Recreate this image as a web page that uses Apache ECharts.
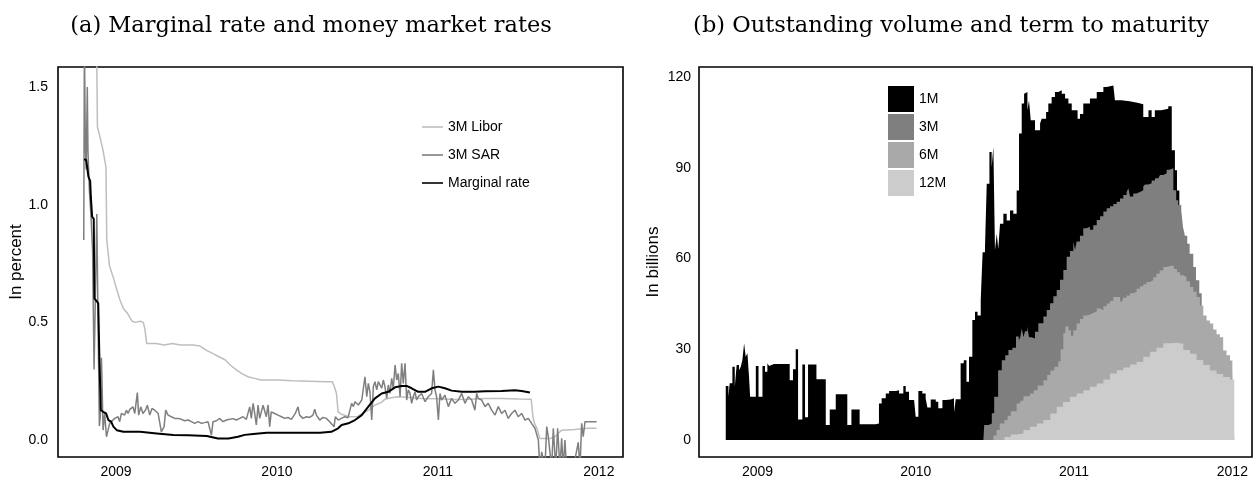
<!DOCTYPE html>
<html>
<head>
<meta charset="utf-8">
<script src="https://cdn.jsdelivr.net/npm/echarts@6/dist/echarts.min.js"></script>
<style>
  html, body { margin: 0; padding: 0; background: #fff; }
  #main { width: 1253px; height: 477px; }
</style>
</head>
<body>
<div id="main"></div>
<script>
// ---- panel (a): rates, x in decimal years ----
var liborT = [2008.800,2008.840,2008.870,2008.881,2008.885,2008.900,2008.920,2008.938,2008.943,2008.960,2008.984,2009.005,2009.025,2009.045,2009.070,2009.100,2009.120,2009.150,2009.170,2009.180,2009.191,2009.250,2009.300,2009.350,2009.400,2009.480,2009.520,2009.560,2009.600,2009.640,2009.680,2009.710,2009.750,2009.780,2009.820,2009.860,2009.900,2010.000,2010.100,2010.200,2010.300,2010.345,2010.360,2010.370,2010.380,2010.400,2010.450,2010.500,2010.530,2010.570,2010.610,2010.650,2010.670,2010.710,2010.750,2010.800,2010.900,2011.000,2011.100,2011.190,2011.300,2011.400,2011.500,2011.580,2011.590,2011.600,2011.615,2011.634,2011.700,2011.727,2011.750,2011.769,2011.850,2011.934,2011.986];
var liborV = [4.0,3.0,2.0,1.6,1.33,1.29,1.23,1.16,0.85,0.74,0.69,0.64,0.595,0.56,0.54,0.505,0.50,0.505,0.50,0.47,0.41,0.41,0.404,0.41,0.404,0.404,0.40,0.382,0.368,0.354,0.34,0.319,0.297,0.283,0.269,0.262,0.255,0.255,0.252,0.250,0.248,0.248,0.22,0.198,0.12,0.11,0.099,0.10,0.113,0.127,0.149,0.16,0.173,0.180,0.184,0.182,0.177,0.175,0.172,0.173,0.177,0.177,0.174,0.173,0.10,0.071,0.05,0.007,0.007,0.014,0.03,0.042,0.045,0.050,0.050];

var sarT = [2008.800,2008.804,2008.810,2008.815,2008.822,2008.826,2008.835,2008.845,2008.855,2008.864,2008.872,2008.881,2008.888,2008.897,2008.903,2008.910,2008.920,2008.930,2008.941,2008.951,2008.961,2008.972,2008.992,2009.013,2009.023,2009.034,2009.054,2009.065,2009.075,2009.086,2009.106,2009.117,2009.133,2009.141,2009.154,2009.168,2009.183,2009.195,2009.210,2009.224,2009.241,2009.262,2009.282,2009.299,2009.309,2009.324,2009.344,2009.365,2009.386,2009.406,2009.427,2009.448,2009.469,2009.489,2009.510,2009.531,2009.551,2009.572,2009.593,2009.603,2009.624,2009.645,2009.665,2009.686,2009.707,2009.727,2009.748,2009.769,2009.790,2009.810,2009.831,2009.841,2009.852,2009.862,2009.872,2009.883,2009.893,2009.914,2009.924,2009.934,2009.945,2009.955,2009.965,2009.986,2010.007,2010.028,2010.048,2010.069,2010.090,2010.114,2010.131,2010.141,2010.162,2010.183,2010.204,2010.224,2010.235,2010.245,2010.266,2010.286,2010.307,2010.328,2010.338,2010.355,2010.363,2010.380,2010.400,2010.421,2010.442,2010.464,2010.475,2010.485,2010.506,2010.527,2010.547,2010.558,2010.568,2010.578,2010.589,2010.599,2010.609,2010.620,2010.630,2010.651,2010.661,2010.671,2010.682,2010.692,2010.702,2010.713,2010.723,2010.734,2010.744,2010.754,2010.765,2010.775,2010.785,2010.796,2010.806,2010.816,2010.827,2010.837,2010.847,2010.858,2010.868,2010.878,2010.899,2010.920,2010.940,2010.961,2010.972,2010.982,2010.992,2011.003,2011.013,2011.023,2011.044,2011.065,2011.085,2011.106,2011.127,2011.148,2011.168,2011.189,2011.210,2011.230,2011.241,2011.251,2011.272,2011.293,2011.313,2011.334,2011.355,2011.375,2011.396,2011.417,2011.437,2011.458,2011.479,2011.499,2011.520,2011.541,2011.562,2011.582,2011.603,2011.624,2011.634,2011.645,2011.665,2011.676,2011.686,2011.707,2011.717,2011.732,2011.744,2011.758,2011.769,2011.779,2011.789,2011.800,2011.841,2011.872,2011.883,2011.893,2011.903,2011.914,2011.986];
var sarV = [0.85,1.70,1.25,1.15,1.50,1.23,1.06,0.95,0.80,0.30,0.60,0.96,0.55,0.06,0.10,0.35,0.042,0.113,0.014,0.042,0.071,0.064,0.092,0.099,0.078,0.113,0.106,0.127,0.113,0.130,0.141,0.113,0.202,0.106,0.141,0.113,0.127,0.148,0.106,0.134,0.127,0.113,0.035,0.057,0.127,0.106,0.099,0.092,0.092,0.088,0.082,0.085,0.078,0.071,0.078,0.071,0.074,0.078,0.021,0.078,0.082,0.092,0.078,0.085,0.088,0.091,0.085,0.092,0.099,0.088,0.141,0.092,0.156,0.113,0.064,0.149,0.092,0.148,0.141,0.099,0.149,0.057,0.120,0.113,0.106,0.099,0.092,0.096,0.088,0.113,0.141,0.106,0.092,0.099,0.096,0.106,0.131,0.106,0.085,0.096,0.092,0.078,0.085,0.057,0.099,0.085,0.092,0.099,0.095,0.156,0.142,0.163,0.149,0.170,0.269,0.184,0.241,0.205,0.085,0.227,0.248,0.213,0.248,0.220,0.255,0.227,0.177,0.234,0.198,0.262,0.220,0.319,0.255,0.283,0.184,0.326,0.241,0.326,0.170,0.213,0.198,0.156,0.184,0.205,0.170,0.184,0.198,0.163,0.184,0.198,0.298,0.213,0.184,0.085,0.198,0.170,0.191,0.142,0.177,0.156,0.170,0.198,0.156,0.184,0.170,0.127,0.198,0.177,0.170,0.142,0.156,0.127,0.106,0.142,0.113,0.127,0.092,0.113,0.127,0.099,0.113,0.085,0.092,0.071,0.050,0.000,-0.12,-0.05,-0.12,0.057,0.014,-0.12,0.050,-0.12,0.050,-0.12,0.007,-0.12,0.000,-0.12,-0.12,-0.01,-0.12,0.071,0.014,0.078,0.078];

var margT = [2008.802,2008.815,2008.829,2008.840,2008.844,2008.852,2008.862,2008.866,2008.880,2008.890,2008.897,2008.906,2008.920,2008.939,2008.953,2008.970,2008.984,2009.005,2009.046,2009.150,2009.253,2009.357,2009.450,2009.564,2009.634,2009.700,2009.758,2009.800,2009.853,2009.937,2010.100,2010.268,2010.338,2010.380,2010.402,2010.444,2010.485,2010.527,2010.568,2010.609,2010.651,2010.692,2010.734,2010.775,2010.806,2010.837,2010.878,2010.920,2010.961,2011.003,2011.044,2011.085,2011.148,2011.230,2011.293,2011.396,2011.479,2011.520,2011.572];
var margV = [1.193,1.19,1.119,1.10,1.034,0.949,0.94,0.602,0.59,0.581,0.35,0.127,0.12,0.113,0.085,0.078,0.057,0.042,0.035,0.035,0.028,0.021,0.020,0.017,0.007,0.007,0.014,0.022,0.026,0.031,0.031,0.031,0.035,0.050,0.064,0.071,0.085,0.106,0.142,0.177,0.198,0.205,0.224,0.230,0.230,0.220,0.205,0.205,0.220,0.227,0.220,0.210,0.205,0.205,0.207,0.208,0.212,0.208,0.202];

// ---- panel (b): outstanding volume, upper edge of each maturity band (cumulative) ----
var top1mT = [2008.799,2008.816,2008.824,2008.841,2008.856,2008.868,2008.883,2008.894,2008.904,2008.915,2008.925,2008.936,2008.946,2008.953,2008.989,2009.006,2009.031,2009.047,2009.062,2009.073,2009.083,2009.104,2009.115,2009.203,2009.224,2009.241,2009.256,2009.283,2009.300,2009.319,2009.372,2009.431,2009.456,2009.494,2009.567,2009.593,2009.645,2009.746,2009.767,2009.784,2009.810,2009.831,2009.873,2009.894,2009.921,2009.936,2009.957,2009.989,2009.999,2010.016,2010.041,2010.062,2010.073,2010.094,2010.126,2010.142,2010.168,2010.189,2010.220,2010.241,2010.252,2010.283,2010.303,2010.320,2010.336,2010.357,2010.374,2010.390,2010.410,2010.422,2010.437,2010.448,2010.465,2010.479,2010.490,2010.500,2010.511,2010.521,2010.532,2010.553,2010.574,2010.595,2010.616,2010.637,2010.652,2010.669,2010.684,2010.696,2010.705,2010.715,2010.726,2010.753,2010.785,2010.795,2010.823,2010.837,2010.858,2010.879,2010.900,2010.922,2010.943,2010.964,2010.985,2011.022,2011.037,2011.058,2011.100,2011.143,2011.185,2011.206,2011.248,2011.258,2011.300,2011.350,2011.400,2011.437,2011.470,2011.490,2011.510,2011.550,2011.595,2011.617,2011.637,2011.650,2011.665];
var top1mV = [17.9,14.3,18.8,24.2,17.5,24.8,23.1,24.2,26.4,32.0,27.5,28.7,20.9,14.3,24.5,14.3,24.5,22.6,25.4,24.5,25.1,25.4,25.1,19.8,23.4,30.0,6.8,25.0,7.5,25.0,20.1,5.0,10.1,15.1,5.0,10.1,5.2,5.5,12.1,13.8,15.4,16.2,16.5,15.4,17.9,16.0,13.2,12.7,7.7,16.2,15.4,13.8,10.8,13.4,12.7,10.5,13.2,13.4,13.8,9.0,13.5,25.4,26.4,19.3,27.5,39.7,42.4,41.2,46.2,62.1,63.8,84.7,95.2,90.2,96.9,62.7,68.2,63.2,71.5,74.8,72.6,75.9,74.8,82.5,101.3,111.2,114.5,115.0,109.0,112.3,105.7,102.4,104.6,106.2,108.4,111.2,113.4,115.0,115.6,114.5,112.9,111.2,109.0,106.2,107.8,111.2,112.9,115.0,116.7,117.2,117.3,112.3,112.0,111.5,111.0,106.8,109.0,106.8,109.0,109.5,110.3,95.8,89.2,82.5,78.0];

var top3mT = [2010.427,2010.432,2010.460,2010.480,2010.495,2010.520,2010.543,2010.565,2010.585,2010.610,2010.633,2010.650,2010.660,2010.669,2010.680,2010.690,2010.704,2010.715,2010.732,2010.753,2010.774,2010.806,2010.827,2010.848,2010.869,2010.890,2010.911,2010.932,2010.953,2010.974,2010.995,2011.006,2011.016,2011.037,2011.058,2011.079,2011.100,2011.121,2011.143,2011.164,2011.185,2011.206,2011.227,2011.248,2011.269,2011.290,2011.311,2011.332,2011.343,2011.353,2011.374,2011.395,2011.416,2011.437,2011.448,2011.469,2011.490,2011.511,2011.532,2011.543,2011.564,2011.585,2011.602,2011.627,2011.645,2011.658,2011.677,2011.688,2011.700,2011.715,2011.730,2011.753,2011.770,2011.791,2011.806];
var top3mV = [0,5.0,5.5,8.9,14.3,23.1,26.4,28.0,29.8,30.5,34.2,33.0,34.0,36.9,34.0,36.0,37.5,34.0,33.6,35.8,38.6,40.8,43.0,45.2,47.5,49.6,53.0,56.2,60.6,62.5,65.6,62.8,65.6,67.5,70.0,70.5,69.5,71.0,72.7,74.0,75.5,76.6,77.3,78.0,78.8,79.8,81.0,82.0,83.2,80.5,81.5,82.0,82.6,83.8,84.5,84.9,85.8,86.5,87.0,87.6,88.2,89.3,89.8,82.6,79.3,77.7,75.9,70.4,67.5,64.9,61.6,57.2,52.8,48.5,45.0];

var top6mT = [2010.470,2010.490,2010.510,2010.530,2010.560,2010.580,2010.600,2010.637,2010.660,2010.680,2010.721,2010.745,2010.770,2010.806,2010.830,2010.850,2010.875,2010.900,2010.915,2010.932,2010.945,2010.965,2010.980,2010.995,2011.016,2011.037,2011.058,2011.079,2011.100,2011.121,2011.143,2011.164,2011.185,2011.206,2011.227,2011.248,2011.270,2011.290,2011.300,2011.311,2011.332,2011.353,2011.374,2011.395,2011.416,2011.437,2011.458,2011.480,2011.500,2011.520,2011.540,2011.564,2011.585,2011.606,2011.630,2011.650,2011.670,2011.690,2011.710,2011.732,2011.753,2011.774,2011.795,2011.816,2011.837,2011.858,2011.879,2011.900,2011.921,2011.942,2011.963,2011.985,2012.000,2012.012];
var top6mV = [0,1.5,3.3,5.5,6.6,8.0,9.5,12.1,13.0,14.5,15.4,16.5,18.0,19.8,21.5,23.0,24.2,26.0,30.0,35.4,37.5,36.3,34.5,36.3,38.5,40.0,41.2,41.5,42.0,42.5,43.5,42.9,44.2,45.1,46.0,47.3,47.3,46.2,45.5,47.0,47.8,48.5,49.0,50.0,50.8,51.5,52.2,52.8,53.8,55.0,56.0,57.2,57.5,57.7,56.5,55.5,54.5,53.9,52.5,50.6,49.0,47.3,44.5,41.2,39.5,38.5,36.5,35.0,34.0,29.6,28.0,26.3,23.0,23.0];

var top12mT = [2010.543,2010.560,2010.600,2010.637,2010.680,2010.721,2010.765,2010.806,2010.850,2010.890,2010.930,2010.974,2011.016,2011.058,2011.100,2011.143,2011.185,2011.227,2011.270,2011.311,2011.353,2011.395,2011.437,2011.480,2011.520,2011.564,2011.606,2011.648,2011.690,2011.732,2011.774,2011.816,2011.858,2011.900,2011.942,2011.985,2012.012];
var top12mV = [0,1.0,1.8,2.2,3.3,4.4,5.5,6.6,8.8,11.0,12.6,14.3,15.4,16.5,17.6,18.7,20.0,22.0,23.1,24.0,25.0,25.9,27.5,29.2,30.5,32.0,32.2,31.8,29.8,28.5,26.5,24.8,23.0,21.8,20.8,20.0,20.0];

var yearTicks = [2009, 2010, 2011, 2012];
var rateTicks = [0, 0.5, 1.0, 1.5];
var volTicks = [0, 30, 60, 90, 120];

function pairs(xs, ys) {
  return xs.map(function (x, i) { return [x, ys[i]]; });
}

var sans = 'Liberation Sans';
var chart = echarts.init(document.getElementById('main'));

function xAxisFor(gi, lo, hi) {
  return {
    type: 'value', gridIndex: gi, min: lo, max: hi,
    axisLine: { show: false }, axisTick: { show: false }, splitLine: { show: false },
    axisLabel: { customValues: yearTicks, margin: 8, fontSize: 14, fontFamily: sans, color: '#000',
      formatter: function (v) { return String(Math.round(v)); } }
  };
}

var titleStyle = { fontFamily: 'DejaVu Serif', fontSize: 22.5, fontWeight: 'normal', color: '#000' };

var option = {
  animation: false,
  title: [
    { text: '(a) Marginal rate and money market rates', left: 311, top: 26, padding: 0,
      textAlign: 'center', textVerticalAlign: 'middle', textStyle: titleStyle },
    { text: '(b) Outstanding volume and term to maturity', left: 951, top: 26, padding: 0,
      textAlign: 'center', textVerticalAlign: 'middle', textStyle: titleStyle }
  ],
  grid: [
    { left: 58, right: 630, top: 67, bottom: 20, outerBoundsMode: 'none', containLabel: false,
      show: true, borderColor: '#000', borderWidth: 1.6 },
    { left: 699, right: 1, top: 67, bottom: 20, outerBoundsMode: 'none', containLabel: false,
      show: true, borderColor: '#000', borderWidth: 1.6 }
  ],
  legend: [
    { data: ['3M Libor', '3M SAR', 'Marginal rate'], orient: 'vertical', left: 422, top: 120, padding: 0,
      icon: 'path://M0,0H210V16H0Z',
      itemWidth: 21, itemHeight: 14, itemGap: 14,
      textStyle: { fontSize: 14, fontFamily: sans, color: '#000' } },
    { data: ['1M', '3M', '6M', '12M'], orient: 'vertical', left: 888, top: 86, padding: 0, icon: 'rect',
      itemWidth: 26, itemHeight: 26, itemGap: 2,
      itemStyle: { borderWidth: 0 },
      textStyle: { fontSize: 14, fontFamily: sans, color: '#000' } }
  ],
  xAxis: [ xAxisFor(0, 2008.640, 2012.150), xAxisFor(1, 2008.630, 2012.124) ],
  yAxis: [
    { type: 'value', gridIndex: 0, min: -0.072, max: 1.585,
      name: 'In percent', nameLocation: 'middle', nameGap: 33,
      nameTextStyle: { fontSize: 17, fontFamily: sans, color: '#000' },
      axisLine: { show: false }, axisTick: { show: false }, splitLine: { show: false },
      axisLabel: { customValues: rateTicks, margin: 10, fontSize: 14, fontFamily: sans, color: '#000',
        formatter: function (v) { return v.toFixed(1); } } },
    { type: 'value', gridIndex: 1, min: -5.6, max: 123.3,
      name: 'In billions', nameLocation: 'middle', nameGap: 37,
      nameTextStyle: { fontSize: 17, fontFamily: sans, color: '#000' },
      axisLine: { show: false }, axisTick: { show: false }, splitLine: { show: false },
      axisLabel: { customValues: volTicks, margin: 8, fontSize: 14, fontFamily: sans, color: '#000',
        formatter: function (v) { return String(Math.round(v)); } } }
  ],
  series: [
    { name: '3M Libor', type: 'line', xAxisIndex: 0, yAxisIndex: 0, data: pairs(liborT, liborV),
      symbol: 'none', color: '#bebebe', lineStyle: { width: 1.5, color: '#bebebe' } },
    { name: '3M SAR', type: 'line', xAxisIndex: 0, yAxisIndex: 0, data: pairs(sarT, sarV),
      symbol: 'none', color: '#7f7f7f', lineStyle: { width: 1.5, color: '#7f7f7f' } },
    { name: 'Marginal rate', type: 'line', xAxisIndex: 0, yAxisIndex: 0, data: pairs(margT, margV),
      symbol: 'none', color: '#000', lineStyle: { width: 2, color: '#000' } },

    { name: '1M', type: 'line', xAxisIndex: 1, yAxisIndex: 1, data: pairs(top1mT, top1mV), step: 'end',
      symbol: 'none', color: '#000', lineStyle: { width: 0 }, areaStyle: { color: '#000', opacity: 1 } },
    { name: '3M', type: 'line', xAxisIndex: 1, yAxisIndex: 1, data: pairs(top3mT, top3mV), step: 'end',
      symbol: 'none', color: '#7f7f7f', lineStyle: { width: 0 }, areaStyle: { color: '#7f7f7f', opacity: 1 } },
    { name: '6M', type: 'line', xAxisIndex: 1, yAxisIndex: 1, data: pairs(top6mT, top6mV), step: 'end',
      symbol: 'none', color: '#a9a9a9', lineStyle: { width: 0 }, areaStyle: { color: '#a9a9a9', opacity: 1 } },
    { name: '12M', type: 'line', xAxisIndex: 1, yAxisIndex: 1, data: pairs(top12mT, top12mV), step: 'end',
      symbol: 'none', color: '#cccccc', lineStyle: { width: 0 }, areaStyle: { color: '#cccccc', opacity: 1 } }
  ]
};

chart.setOption(option);
</script>
</body>
</html>
